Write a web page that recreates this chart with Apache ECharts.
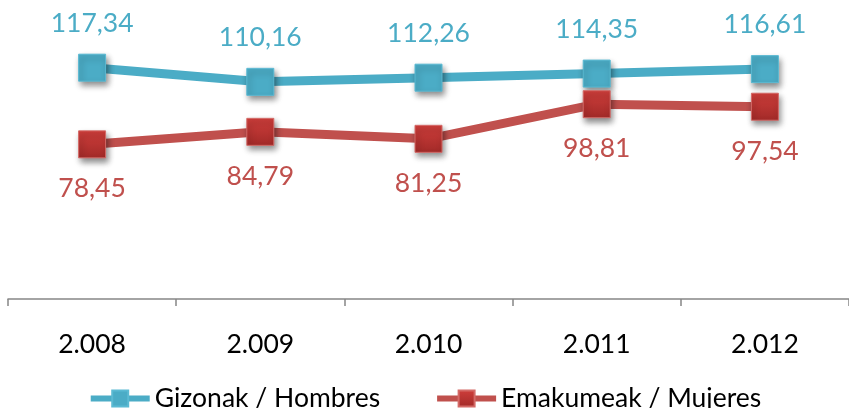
<!DOCTYPE html>
<html>
<head>
<meta charset="utf-8">
<script src="https://cdn.jsdelivr.net/npm/echarts@6/dist/echarts.min.js"></script>
<style>html,body{margin:0;padding:0;background:#fff;}#c{width:849px;height:408px;}</style>
</head>
<body>
<div id="c"></div>
<script>
var categories = ['2.008', '2.009', '2.010', '2.011', '2.012'];
var hombres = [117.34, 110.16, 112.26, 114.35, 116.61];
var mujeres = [78.45, 84.79, 81.25, 98.81, 97.54];
var seriesNames = ['Gizonak / Hombres', 'Emakumeak / Mujeres'];

var FONT = 'Lato';
function fmt(p) { return p.value.toFixed(2).replace('.', ','); }
var shadow = { shadowColor: 'rgba(0,0,0,0.45)', shadowBlur: 6, shadowOffsetX: 2, shadowOffsetY: 4 };

var chart = echarts.init(document.getElementById('c'), null, { renderer: 'canvas' });
chart.setOption({
  animation: false,
  grid: { left: 8, top: 23, width: 850, bottom: 109 },
  legend: {
    top: 380, left: 'center', itemWidth: 59, itemHeight: 20, itemGap: 54,
    lineStyle: { width: 6 },
    textStyle: { fontFamily: FONT, fontSize: 26.5, color: '#000' },
    data: seriesNames
  },
  xAxis: {
    type: 'category', data: categories, boundaryGap: true,
    axisLine: { lineStyle: { color: '#868686', width: 1.5 } },
    axisTick: { show: true, length: 7, lineStyle: { color: '#868686', width: 1.5 } },
    axisLabel: { fontFamily: FONT, fontSize: 26.5, color: '#000', margin: 32 }
  },
  yAxis: { type: 'value', min: 0, max: 140, show: false, splitLine: { show: false } },
  series: [
    {
      name: seriesNames[0], type: 'line', data: hombres,
      symbol: 'rect', symbolSize: 27,
      lineStyle: { color: '#4BACC6', width: 9 },
      itemStyle: Object.assign({ color: '#4BACC6', borderColor: '#5BBAD3', borderWidth: 1 }, shadow),
      label: { show: true, position: 'top', distance: 17, formatter: fmt,
               fontFamily: FONT, fontSize: 26.5, color: '#4BACC6' }
    },
    {
      name: seriesNames[1], type: 'line', data: mujeres,
      symbol: 'rect', symbolSize: 27,
      lineStyle: { color: '#C0504D', width: 9 },
      itemStyle: Object.assign({
        color: new echarts.graphic.LinearGradient(0, 0, 0, 1, [
          { offset: 0, color: '#CF3E3B' }, { offset: 1, color: '#A22A28' }
        ]),
        borderColor: '#D46A67', borderWidth: 1 }, shadow),
      label: { show: true, position: 'bottom', distance: 17, formatter: fmt,
               fontFamily: FONT, fontSize: 26.5, color: '#C0504D' }
    }
  ]
});
</script>
</body>
</html>
